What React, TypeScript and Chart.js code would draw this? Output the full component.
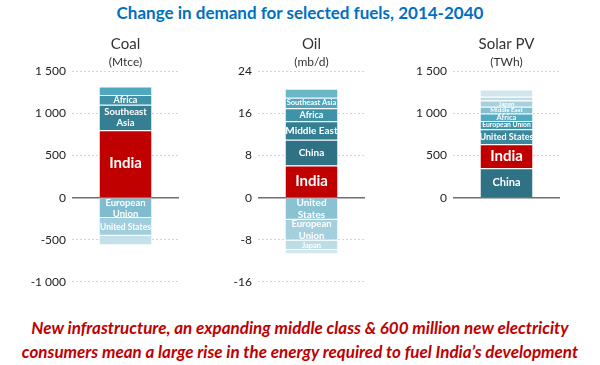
import React, { useEffect, useRef } from "react";
import { Chart, registerables } from "chart.js";
Chart.register(...registerables);

const FONT = "Lato, 'Open Sans', sans-serif";

// ---- Coal (Mtce) ----
const coalSegments = ["India", "Southeast\nAsia", "Africa", "", "European\nUnion", "United States", ""];
const coalValues = [800, 305, 115, 100, -243, -209, -113];
const coalTicks = [-1000, -500, 0, 500, 1000, 1500];

// ---- Oil (mb/d) ----
const oilSegments = ["India", "China", "Middle East", "Africa", "Southeast Asia", "", "United\nStates", "European\nUnion", "Japan", ""];
const oilValues = [6.1, 4.9, 3.5, 2.5, 2.0, 1.7, -4.2, -3.95, -1.8, -0.8];
const oilTicks = [-16, -8, 0, 8, 16, 24];

// ---- Solar PV (TWh) ----
const solarSegments = ["China", "India", "United States", "European Union", "Africa", "Middle East", "Japan", "", ""];
const solarValues = [350, 285, 178, 97, 90, 80, 75, 45, 85];
const solarTicks = [0, 500, 1000, 1500];

// styles (kept apart from the data)
const RED = "#C00000";
const coalColors = [RED, "#357F93", "#3E93A8", "#4FA8C0", "#7FBCCF", "#A0CEDC", "#C4E0E8"];
const coalLabelSizes = [15, 9.5, 9, 9, 9.5, 8.5, 9];
const oilColors = [RED, "#2F7286", "#357F93", "#3E93A9", "#4FA7BF", "#6BB5C9", "#89C2D3", "#A4CFDC", "#BDDDE6", "#D3E8EE"];
const oilLabelSizes = [15, 10, 10, 9, 7.5, 8, 10, 9.5, 7.5, 7];
const solarColors = ["#2F7286", RED, "#3A889E", "#3E97AE", "#4FAAC2", "#84BFD0", "#A6D0DC", "#BEDCE5", "#D0E5EC"];
const solarLabelSizes = [11, 15, 9, 6.8, 7.5, 6.2, 6.2, 6, 6];

const fmt = (v: number) => String(v).replace(/\B(?=(\d{3})+(?!\d))/g, " ");

const segmentLabelPlugin = {
  id: "segmentLabels",
  afterDatasetsDraw(chart: any) {
    const ctx = chart.ctx;
    chart.data.datasets.forEach((ds: any, i: number) => {
      const meta = chart.getDatasetMeta(i);
      const bar = meta.data[0];
      if (!bar || !ds.label) return;
      const { x, y, base } = bar.getProps(["x", "y", "base"], true);
      const lines = String(ds.label).split("\n");
      const size = ds.labelSize;
      ctx.save();
      ctx.font = `bold ${size}px ${FONT}`;
      ctx.fillStyle = "#ffffff";
      ctx.textAlign = "center";
      ctx.textBaseline = "middle";
      const lh = size * 1.2;
      const cy = (y + base) / 2;
      lines.forEach((l: string, k: number) => {
        ctx.fillText(l, x, cy + (k - (lines.length - 1) / 2) * lh);
      });
      ctx.restore();
    });
  },
};

type PanelProps = {
  title: string;
  unit: string;
  segments: string[];
  values: number[];
  colors: string[];
  sizes: number[];
  ticks: number[];
  min: number;
  max: number;
  left: number;
};

const W = 172;
const H = 265;

function Panel(p: PanelProps) {
  const ref = useRef<HTMLCanvasElement | null>(null);
  useEffect(() => {
    if (!ref.current) return;
    const chart = new Chart(ref.current, {
      type: "bar",
      data: {
        labels: [""],
        datasets: p.values.map((v, i) => ({
          label: p.segments[i],
          data: [v],
          backgroundColor: p.colors[i],
          borderColor: "#ffffff",
          borderWidth: 1,
          borderSkipped: "start",
          stack: "s",
          labelSize: p.sizes[i],
        })) as any,
      },
      options: {
        animation: false,
        responsive: false,
        events: [],
        layout: { padding: { left: 0, right: 5, top: 0, bottom: 12 } },
        datasets: { bar: { categoryPercentage: 1, barPercentage: 0.5 } },
        plugins: {
          legend: { display: false },
          tooltip: { enabled: false },
          title: {
            display: true,
            text: p.title,
            fullSize: false,
            color: "#333333",
            font: { family: FONT, size: 15, weight: "normal" },
            padding: { top: 5, bottom: 0 },
          },
          subtitle: {
            display: true,
            text: p.unit,
            fullSize: false,
            color: "#333333",
            font: { family: FONT, size: 12, weight: "normal" },
            padding: { top: 2, bottom: 2 },
          },
        },
        scales: {
          x: { display: false, stacked: true },
          y: {
            stacked: true,
            min: p.min,
            max: p.max,
            afterBuildTicks: (s: any) => {
              s.ticks = p.ticks.map((v) => ({ value: v }));
            },
            afterFit: (s: any) => {
              s.width = 60;
            },
            ticks: {
              padding: 6,
              color: "#222222",
              font: { family: FONT, size: 12 },
              callback: (v: any) => fmt(Number(v)),
            },
            grid: {
              drawTicks: false,
              color: (c: any) => (c.tick && c.tick.value === 0 ? "#6f6f6f" : "#d4d4d4"),
              lineWidth: (c: any) => (c.tick && c.tick.value === 0 ? 1.5 : 1),
            },
            border: {
              display: false,
              dash: (c: any) => (c.tick && c.tick.value === 0 ? [] : [2, 2]),
            },
          },
        },
      } as any,
      plugins: [segmentLabelPlugin],
    });
    return () => chart.destroy();
  }, []);
  return (
    <canvas
      ref={ref}
      width={W}
      height={H}
      style={{ position: "absolute", left: p.left, top: 30, width: W, height: H }}
    />
  );
}

export default function App() {
  return (
    <div
      style={{
        position: "fixed",
        left: 0,
        top: 0,
        width: 600,
        height: 365,
        background: "#ffffff",
        fontFamily: FONT,
        overflow: "hidden",
      }}
    >
      <div
        style={{
          position: "absolute",
          top: 2,
          left: 0,
          width: 600,
          textAlign: "center",
          color: "#0070C0",
          fontWeight: 700,
          fontSize: 17,
        }}
      >
        Change in demand for selected fuels, 2014-2040
      </div>
      <Panel title="Coal" unit="(Mtce)" segments={coalSegments} values={coalValues} colors={coalColors} sizes={coalLabelSizes} ticks={coalTicks} min={-1000} max={1500} left={12} />
      <Panel title="Oil" unit="(mb/d)" segments={oilSegments} values={oilValues} colors={oilColors} sizes={oilLabelSizes} ticks={oilTicks} min={-16} max={24} left={198} />
      <Panel title="Solar PV" unit="(TWh)" segments={solarSegments} values={solarValues} colors={solarColors} sizes={solarLabelSizes} ticks={solarTicks} min={-1000} max={1500} left={393} />
      <div
        style={{
          position: "absolute",
          top: 316,
          left: 0,
          width: 600,
          textAlign: "center",
          color: "#C00000",
          fontWeight: 700,
          fontStyle: "italic",
          fontSize: 17,
          lineHeight: "24px",
          whiteSpace: "nowrap",
        }}
      >
        New infrastructure, an expanding middle class &amp; 600 million new electricity
        <br />
        consumers mean a large rise in the energy required to fuel India’s development
      </div>
    </div>
  );
}
